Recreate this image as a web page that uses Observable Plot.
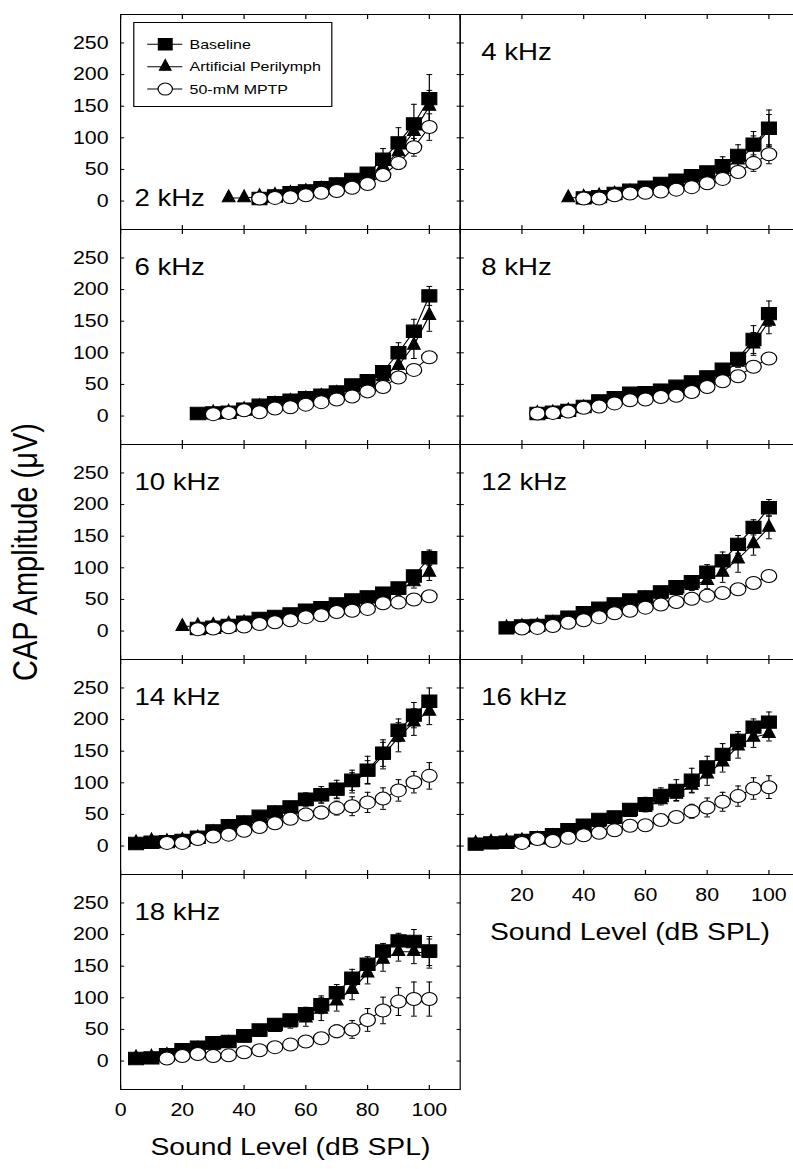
<!DOCTYPE html>
<html><head><meta charset="utf-8">
<script src="https://cdn.jsdelivr.net/npm/d3@7"></script>
<script src="https://cdn.jsdelivr.net/npm/@observablehq/plot@0.6"></script>
<style>
html,body{margin:0;padding:0;background:#fff;overflow:hidden;width:793px;height:1169px}
#stage{position:absolute;left:0;top:0;width:666px;height:1169px;transform:scaleX(1.2);transform-origin:0 0;font-family:"Liberation Sans",Arial,sans-serif;}
#legend{position:absolute;left:111px;top:22px;width:166px;height:85px;border:1px solid #000;background:#fff;box-sizing:border-box}
#legend svg{position:absolute;left:-1px;top:-1px}
</style></head>
<body><div id="stage"><div id="chart"></div><div id="legend"></div></div>
<script>
const _ = null;
const levels = [5,10,15,20,25,30,35,40,45,50,55,60,65,70,75,80,85,90,95,100];
const freqLabels = ["2 kHz","4 kHz","6 kHz","8 kHz","10 kHz","12 kHz","14 kHz","16 kHz","18 kHz"];
const seriesNames = ["Baseline","Artificial Perilymph","50-mM MPTP"];
const xTicks = [0,20,40,60,80,100];
const yTicks = [0,50,100,150,200,250];
const xTitle = "Sound Level (dB SPL)";
const yTitle = "CAP Amplitude (\u03BCV)";

const baseline = [
 [_,_,_,_,_,_,_,_,4,8,13,16,21,27,34,44,66,92,122,162],
 [_,_,_,_,_,_,_,5,7,12,17,22,28,33,40,46,56,72,90,115],
 [_,_,_,_,4,5,6,11,17,21,25,29,33,38,49,56,70,100,134,190],
 [_,_,_,_,4,6,9,15,24,29,36,37,41,47,54,62,74,91,121,162],
 [_,_,_,_,4,6,9,14,20,23,27,33,37,43,49,54,60,68,87,116],
 [_,_,5,8,9,15,22,29,36,43,49,54,62,70,78,93,111,137,164,195],
 [4,6,7,9,14,24,32,38,47,54,62,74,81,90,104,120,147,183,207,229],
 [3,5,6,9,13,18,26,33,42,46,58,67,80,88,104,125,145,167,188,196],
 [4,5,10,18,22,29,31,40,49,58,65,75,89,108,131,153,174,190,189,174]
];
const perilymph = [
 [_,_,_,_,_,_,5,5,7,9,12,15,19,24,30,40,55,78,110,150],
 [_,_,_,_,_,_,5,6,8,11,14,18,22,27,33,40,50,65,85,112],
 [_,_,_,_,_,5,6,10,15,19,23,27,31,36,45,52,62,80,112,159],
 [_,_,_,_,4,5,8,13,20,25,31,33,37,42,49,57,68,85,114,150],
 [_,_,_,7,8,9,11,13,16,19,22,27,31,36,41,45,50,64,78,93],
 [_,_,5,7,8,12,18,25,32,39,45,51,58,64,72,80,93,114,138,164],
 [5,8,7,9,13,21,29,35,43,51,58,70,78,87,100,117,143,172,196,213],
 [4,6,7,8,11,15,22,29,37,42,53,61,73,82,96,114,133,158,172,178],
 [5,6,9,14,19,25,28,36,45,53,60,68,82,95,113,139,161,173,173,170]
];
const mptp = [
 [_,_,_,_,_,_,_,_,4,5,6,9,13,16,21,27,41,60,85,117],
 [_,_,_,_,_,_,_,4,4,9,12,13,15,18,22,28,35,46,60,74],
 [_,_,_,_,_,3,5,9,6,12,14,18,22,26,31,39,46,61,73,93],
 [_,_,_,_,4,5,7,13,15,20,25,26,30,32,38,46,55,63,78,91],
 [_,_,_,_,3,4,6,7,11,14,17,22,25,30,32,35,44,45,50,55],
 [_,_,_,4,5,8,13,17,22,28,32,37,42,46,51,56,60,66,76,87],
 [_,_,5,5,11,15,18,24,30,36,43,50,53,60,63,69,75,88,101,111],
 [_,_,_,5,11,8,13,17,21,25,32,33,41,46,55,61,70,79,91,93],
 [_,_,4,8,11,8,9,14,17,22,26,31,36,47,50,65,80,94,98,98]
];
const baselineErr = [
 [_,_,_,_,_,_,_,_,2,2,2,2,2,3,4,8,17,24,31,38],
 [_,_,_,_,_,_,_,2,2,2,2,2,3,3,4,6,14,17,20,29],
 [_,_,_,_,2,2,2,2,2,2,2,3,3,4,4,5,8,16,19,15],
 [_,_,_,_,2,2,2,2,2,2,3,3,3,3,4,5,6,8,22,20],
 [_,_,_,_,2,2,2,2,2,2,2,3,3,3,3,4,4,5,8,12],
 [_,_,2,2,2,2,2,2,3,3,3,4,4,5,6,12,14,14,12,13],
 [2,2,2,2,3,3,4,4,5,5,6,10,13,14,16,22,21,18,20,21],
 [2,2,2,2,3,3,3,4,5,5,6,10,12,17,19,17,17,14,13,16],
 [2,2,2,3,3,3,4,4,5,6,8,10,14,13,14,12,12,12,19,23]
];
const perilymphErr = [
 [_,_,_,_,_,_,2,2,2,2,2,2,3,3,4,6,10,15,20,25],
 [_,_,_,_,_,_,2,2,2,2,2,3,3,3,4,5,8,12,18,25],
 [_,_,_,_,_,2,2,2,2,2,2,3,3,4,4,5,7,12,21,25],
 [_,_,_,_,2,2,2,2,2,2,3,3,3,3,4,5,6,8,18,20],
 [_,_,_,2,2,2,2,2,2,2,3,3,3,3,4,4,5,8,10,13],
 [_,_,2,2,2,2,2,2,3,3,3,4,4,5,8,13,16,21,18,18],
 [2,2,2,2,3,3,4,4,5,5,6,8,10,12,16,18,21,23,21,21],
 [2,2,2,2,3,3,3,4,5,5,6,7,8,10,12,18,16,19,16,12],
 [2,2,2,3,3,3,4,4,5,6,8,13,18,16,16,17,19,15,19,23]
];
const mptpErr = [
 [_,_,_,_,_,_,_,_,2,2,2,2,2,2,3,4,6,10,14,21],
 [_,_,_,_,_,_,_,2,2,2,2,2,2,2,3,4,5,8,13,15],
 [_,_,_,_,_,2,2,2,2,2,2,2,2,3,3,3,4,4,5,5],
 [_,_,_,_,2,2,2,2,2,2,2,2,3,3,3,3,4,4,4,4],
 [_,_,_,_,2,2,2,2,2,2,2,2,2,3,3,3,3,3,3,4],
 [_,_,_,2,2,2,2,2,2,2,2,2,3,3,3,3,4,4,4,4],
 [_,_,2,2,3,3,3,4,4,5,5,7,10,11,15,16,17,17,17,21],
 [_,_,_,2,2,2,2,3,3,3,4,5,5,8,11,15,15,16,17,18],
 [_,_,2,2,2,2,2,3,3,3,4,5,6,10,14,18,21,22,27,27]
];

// Derived tables
const valueSets = [baseline, perilymph, mptp];
const errSets = [baselineErr, perilymphErr, mptpErr];
const panels = freqLabels.map((name, i) => ({name, i, col: i % 2, row: Math.floor(i / 2)}));
const rows = [];
panels.forEach(p => {
  seriesNames.forEach((s, j) => {
    valueSets[j][p.i].forEach((v, k) => {
      if (v != null) rows.push({series: s, s: j, col: p.col, row: p.row, level: levels[k], value: v, err: errSets[j][p.i][k]});
    });
  });
});
// bottom panel of each column carries the x axis labels
const bottomPanels = [0, 1].map(c => {
  const ps = panels.filter(p => p.col === c);
  return ps[ps.length - 1];
});
const xLabelRows = [];
bottomPanels.forEach(p => xTicks.forEach(v => { if (p.col === 0 || v > 0) xLabelRows.push({col: p.col, row: p.row, v}); }));

// Symbols
const sqSym = {draw(ctx, size) { const r = Math.sqrt(size / Math.PI); ctx.rect(-r, -r, 2 * r, 2 * r); }};
const triSym = {draw(ctx, size) { const r = Math.sqrt(size / Math.PI); ctx.moveTo(0, -1.2 * r); ctx.lineTo(0.8 * r, 0.6 * r); ctx.lineTo(-0.8 * r, 0.6 * r); ctx.closePath(); }};
const capSym = {draw(ctx, size) { const r = Math.sqrt(size / Math.PI); ctx.moveTo(-r, 0); ctx.lineTo(r, 0); }};
const symbols = [sqSym, triSym, "circle"];
const symR = [6.2, 6.6, 6.5];
const fills = ["black", "black", "white"];

const F = {fx: "col", fy: "row"};
const seriesMarks = seriesNames.flatMap((s, j) => {
  const d = rows.filter(r => r.s === j);
  return [
    Plot.line(d, {...F, x: "level", y: "value", stroke: "black", strokeWidth: 1}),
    Plot.ruleX(d, {...F, x: "level", y1: r => r.value - r.err, y2: r => r.value + r.err, stroke: "black", strokeWidth: 1}),
    Plot.dot(d, {...F, x: "level", y: r => r.value + r.err, symbol: capSym, r: 2.4, stroke: "black", strokeWidth: 1, fill: "none"}),
    Plot.dot(d, {...F, x: "level", y: r => r.value - r.err, symbol: capSym, r: 2.4, stroke: "black", strokeWidth: 1, fill: "none"}),
    Plot.dot(d, {...F, x: "level", y: "value", symbol: symbols[j], r: symR[j], fill: fills[j], stroke: "black", strokeWidth: 1})
  ];
});

const tickOpts = {fill: "none", stroke: "black", label: null, facetAnchor: null};
const chart = Plot.plot({
  width: 666, height: 1169,
  marginLeft: 100, marginRight: 0, marginTop: 14, marginBottom: 80,
  x: {domain: [0, 110], axis: null},
  y: {domain: [-45, 295], axis: null},
  fx: {domain: [0, 1], padding: 0, axis: null},
  fy: {domain: [0, 1, 2, 3, 4], padding: 0, axis: null},
  style: {fontFamily: "'Liberation Sans', Arial, sans-serif", background: "white", color: "black"},
  marks: [
    Plot.axisX({...tickOpts, anchor: "bottom", ticks: xTicks, tickSize: -4}),
    Plot.axisX({...tickOpts, anchor: "top", ticks: xTicks, tickSize: -4}),
    Plot.axisY({...tickOpts, anchor: "left", ticks: yTicks, tickSize: -3.5}),
    Plot.axisY({...tickOpts, anchor: "right", ticks: yTicks, tickSize: -3.5}),
    Plot.axisY({anchor: "left", ticks: yTicks, tickSize: 0, tickPadding: 10, label: null, facetAnchor: "left-empty", fontSize: 17.8, fill: "black"}),
    Plot.frame({stroke: "black", strokeWidth: 1}),
    ...seriesMarks,
    Plot.text(xLabelRows, {...F, x: "v", text: d => String(d.v), frameAnchor: "bottom", dy: 26, fontSize: 17.8, fill: "black"}),
    Plot.text(bottomPanels, {...F, text: () => xTitle, frameAnchor: "bottom", dy: 65, fontSize: 23.6, fill: "black"}),
    Plot.text(panels.filter(p => p.i === 0), {...F, text: "name", frameAnchor: "bottom-left", dx: 11.5, dy: -24, textAnchor: "start", lineAnchor: "bottom", fontSize: 23, fill: "black"}),
    Plot.text(panels.filter(p => p.i > 0 && p.col === 0), {...F, text: "name", frameAnchor: "top-left", dx: 11.5, dy: 45, textAnchor: "start", lineAnchor: "bottom", fontSize: 23, fill: "black"}),
    Plot.text(panels.filter(p => p.col === 1), {...F, text: "name", frameAnchor: "top-left", dx: 17.5, dy: 45, textAnchor: "start", lineAnchor: "bottom", fontSize: 23, fill: "black"}),
    Plot.text([{col: 0, row: 2}], {...F, text: () => yTitle, frameAnchor: "left", textAnchor: "middle", dx: -79, rotate: -90, fontSize: 29, fill: "black"})
  ]
});
document.getElementById("chart").appendChild(chart);

// Legend
const lg = d3.select("#legend").append("svg").attr("width", 167).attr("height", 86);
seriesNames.forEach((name, j) => {
  const y = 22.3 + j * 22.4;
  lg.append("line").attr("x1", 11.7).attr("x2", 40.9).attr("y1", y).attr("y2", y).attr("stroke", "black");
  const sym = j === 2 ? d3.symbolCircle : symbols[j];
  lg.append("path").attr("transform", `translate(26.7,${y})`)
    .attr("d", d3.symbol(sym, Math.PI * symR[j] * symR[j] * 0.85)())
    .attr("fill", fills[j]).attr("stroke", "black");
  lg.append("text").attr("x", 47).attr("y", y).attr("dy", "0.35em")
    .attr("font-size", 13.3).attr("font-family", "'Liberation Sans', Arial, sans-serif").text(name);
});
</script>
</body></html>
